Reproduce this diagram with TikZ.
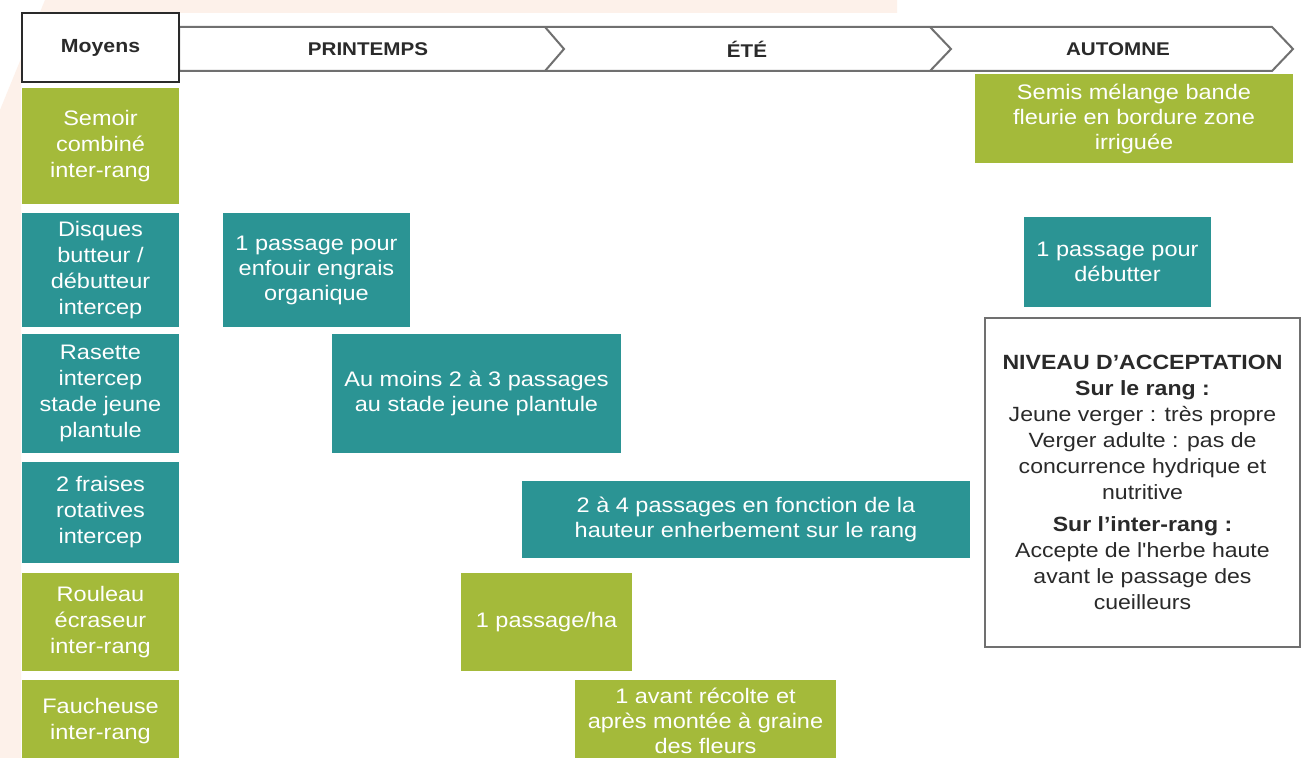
\documentclass[tikz,border=0pt]{standalone}
\usepackage{fontspec}
\setmainfont{Liberation Sans}
\newfontfamily\etroit{Liberation Sans}[FakeStretch=1.12]
\definecolor{vert}{HTML}{A4BA3A}
\definecolor{canard}{HTML}{2B9494}
\definecolor{peche}{HTML}{FDF1EA}
\definecolor{trait}{HTML}{707070}
\definecolor{encre}{HTML}{2A2A2A}
\tikzset{
  moyen/.style={rectangle, minimum width=78.5pt, align=center, text=white, inner sep=1pt,
    font=\etroit\fontsize{10.5}{13}\selectfont},
  vmoyen/.style={moyen, fill=vert},
  cmoyen/.style={moyen, fill=canard},
  action/.style={rectangle, align=center, text=white, inner sep=1pt,
    font=\etroit\fontsize{10.5}{12.5}\selectfont},
  vaction/.style={action, fill=vert},
  caction/.style={action, fill=canard},
  saison/.style={text=encre, font=\etroit\bfseries\fontsize{9.2}{11}\selectfont},
}
\begin{document}
\begin{tikzpicture}[x=0.5pt, y=-0.5pt]
\useasboundingbox (0,0) rectangle (1311,758);
\fill[white] (0,0) rectangle (1311,758);
\fill[peche] (45,0) -- (897,0) -- (897,13) -- (21,13) -- (21,758) -- (0,758) -- (0,110) -- cycle;

% frise des saisons
\draw[trait, fill=white, line width=1pt] (179,27) -- (1272,27) -- (1293,49) -- (1272,71) -- (179,71) -- cycle;
\draw[trait, line width=1pt] (545,27) -- (564,49) -- (545,71);
\draw[trait, line width=1pt] (930,27) -- (951,49) -- (930,71);
\node[saison] (printemps) at (368,49) {PRINTEMPS};
\node[saison] (ete) at (747,49) {ÉTÉ};
\node[saison] (automne) at (1118,49) {AUTOMNE};

% colonne des moyens
\node[draw=encre, line width=1pt, fill=white, minimum width=78.5pt, minimum height=34.5pt,
  text=encre, font=\etroit\bfseries\fontsize{9.5}{11}\selectfont] (moyens) at (100.5,47.5) {Moyens};
\node[vmoyen, minimum height=58pt] (semoir) at (100.5,146) {Semoir\\combiné\\inter-rang};
\node[cmoyen, minimum height=57pt] (disques) at (100.5,270) {Disques\\butteur /\\débutteur\\intercep};
\node[cmoyen, minimum height=59.5pt] (rasette) at (100.5,393.5) {Rasette\\intercep\\stade jeune\\plantule};
\node[cmoyen, minimum height=50.5pt] (fraises) at (100.5,512.5) {2 fraises\\rotatives\\intercep};
\node[vmoyen, minimum height=49pt] (rouleau) at (100.5,622) {Rouleau\\écraseur\\inter-rang};
\node[vmoyen, minimum height=41pt] (faucheuse) at (100.5,721) {Faucheuse\\inter-rang};

% interventions
\node[vaction, minimum width=159pt, minimum height=44.5pt] (semis) at (1134,118.5)
  {Semis mélange bande\\fleurie en bordure zone\\irriguée};
\node[caction, minimum width=93.5pt, minimum height=57pt] (enfouir) at (316.5,270)
  {1 passage pour\\enfouir engrais\\organique};
\node[caction, minimum width=93.5pt, minimum height=45pt] (debutter) at (1117.5,262)
  {1 passage pour\\débutter};
\node[caction, minimum width=144.5pt, minimum height=59.5pt] (moins) at (476.5,393.5)
  {Au moins 2 à 3 passages\\au stade jeune plantule};
\node[caction, minimum width=224pt, minimum height=38.5pt] (passages) at (746,519.5)
  {2 à 4 passages en fonction de la\\hauteur enherbement sur le rang};
\node[vaction, minimum width=85.5pt, minimum height=49pt] (hectare) at (546.5,622)
  {1 passage/ha};
\node[vaction, minimum width=130.5pt, minimum height=41pt] (recolte) at (705.5,721)
  {1 avant récolte et\\après montée à graine\\des fleurs};

% niveau d'acceptation
\node[draw=trait, line width=1pt, fill=white, minimum width=157.5pt, minimum height=164.5pt,
  align=center, text=encre, inner sep=1pt, font=\etroit\fontsize{10.3}{13}\selectfont] (niveau) at (1142.5,482.5)
  {{\bfseries NIVEAU D’ACCEPTATION}\\
   {\bfseries Sur le rang :}\\
   Jeune verger : très propre\\
   Verger adulte : pas de\\
   concurrence hydrique et\\
   nutritive\\[3pt]
   {\bfseries Sur l’inter-rang :}\\
   Accepte de l'herbe haute\\
   avant le passage des\\
   cueilleurs};
\end{tikzpicture}
\end{document}
